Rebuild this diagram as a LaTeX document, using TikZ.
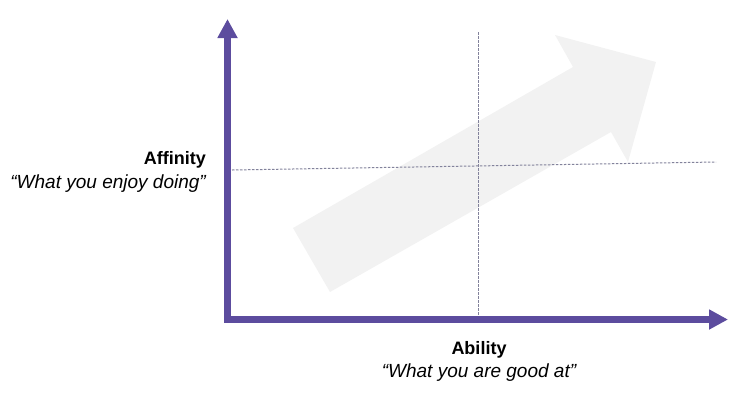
\documentclass[tikz,border=0pt]{standalone}
\usepackage{fontspec}
\setmainfont{Liberation Sans}
\usetikzlibrary{arrows.meta}
\definecolor{axispurple}{RGB}{92,76,158}
\definecolor{guidegray}{RGB}{130,130,155}
\definecolor{bigarrow}{RGB}{242,242,242}
\newcommand{\quotetext}[1]{{\fontsize{19}{23.5}\selectfont\itshape #1}}
\begin{document}
\begin{tikzpicture}[x=1pt, y=-1pt, line join=miter,
  axis line/.style={draw=axispurple, line width=6.5pt, {Triangle[length=19pt,width=19pt]}-{Triangle[length=19pt,width=19pt]}},
  guide line/.style={draw=guidegray, line width=1pt, dash pattern=on 2.5pt off 1.5pt},
  label node/.style={font=\fontsize{18}{23.5}\selectfont, inner sep=0pt}]%
\useasboundingbox (0,0) rectangle (747,392);
% growth arrow in the background
\fill[bigarrow] (293,228) -- (573,67) -- (555,35) -- (656,62) -- (628,162) -- (611,132) -- (330,292) -- cycle;
% quadrant guides
\coordinate (gtop) at (478,32);
\coordinate (gbot) at (478,318);
\coordinate (gleft) at (232,170);
\coordinate (gright) at (716,162);
\draw[guide line] (gtop) -- (gbot);
\draw[guide line] (gleft) -- (gright);
% axes
\coordinate (ytip) at (227.5,19);
\coordinate (o) at (227.5,319.5);
\coordinate (xtip) at (728,319.5);
\draw[axis line] (ytip) -- (o) -- (xtip);
\begin{scope}[every node/.style={label node}]
\node[anchor=east, align=right] (affinity) at (206,172) {\textbf{Affinity}\\\quotetext{“What you enjoy doing”}};
\node[align=center] (ability) at (479,361.5) {\textbf{Ability}\\\quotetext{“What you are good at”}};
\end{scope}
\end{tikzpicture}
\end{document}
